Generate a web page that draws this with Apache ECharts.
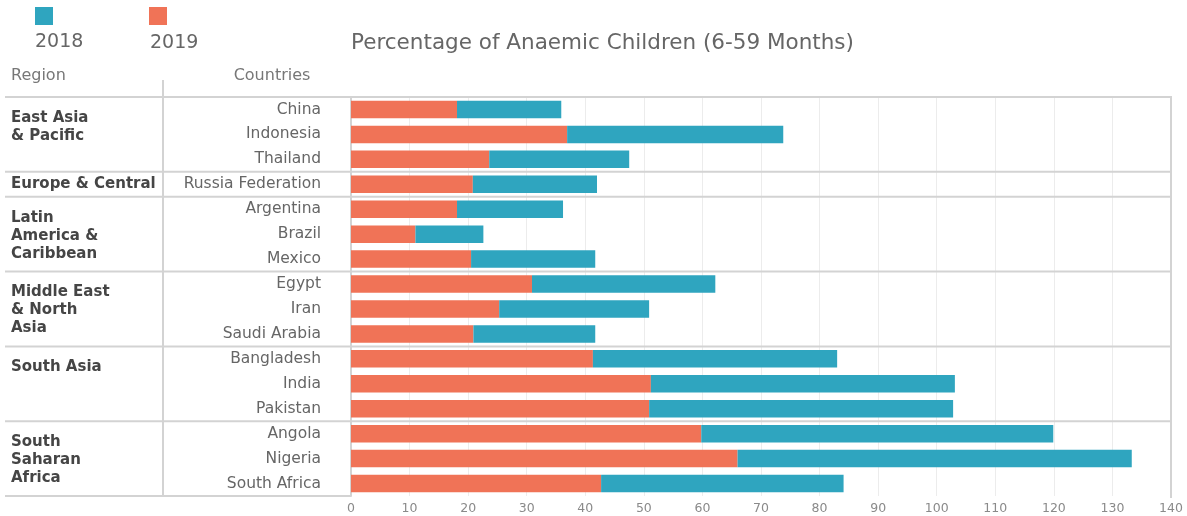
<!DOCTYPE html>
<html><head><meta charset="utf-8">
<script src="https://cdn.jsdelivr.net/npm/echarts@6/dist/echarts.min.js"></script>
<style>html,body{margin:0;padding:0;background:#fff}#c{width:1187px;height:516px}</style>
</head><body><div id="c"></div>
<script>
const categories = ['China','Indonesia','Thailand','Russia Federation','Argentina','Brazil','Mexico','Egypt','Iran','Saudi Arabia','Bangladesh','India','Pakistan','Angola','Nigeria','South Africa'];
const values2019 = [18.1,36.9,23.6,20.8,18.1,11.0,20.5,30.9,25.3,20.9,41.3,51.2,50.9,59.8,66.0,42.7];
const values2018 = [17.8,36.9,23.9,21.2,18.1,11.6,21.2,31.3,25.6,20.8,41.7,51.9,51.9,60.1,67.3,41.4];
const regions = ['East Asia\n& Pacific','Europe & Central','Latin\nAmerica &\nCaribbean','Middle East\n& North\nAsia','South Asia','South\nSaharan\nAfrica'];
const regionSizes = [3,1,3,3,3,3];
const legendNames = ['2018','2019'];
const headers = ['Region','Countries'];
const titleText = 'Percentage of Anaemic Children (6-59 Months)';
const xMin = 0, xMax = 140, xStep = 10;

const TEAL = '#2fa5bf', ORANGE = '#f07357';
const FONT = '"DejaVu Sans", sans-serif';
const LINE = '#d3d3d3';

const chart = echarts.init(document.getElementById('c'), null, {renderer:'canvas'});
chart.setOption({
  animation:false,
  backgroundColor:'#fff',
  title:{text:titleText,left:346,top:27,textStyle:{fontSize:21.5,fontWeight:'normal',color:'#666',fontFamily:FONT}},
  grid:{left:351,right:16,top:97,bottom:20},
  xAxis:{type:'value',min:xMin,max:xMax,interval:xStep,
    axisLine:{show:false},axisTick:{show:false},
    axisLabel:{color:'#8a8a8a',fontSize:12.5,fontFamily:FONT,margin:6},
    splitLine:{show:true,showMinLine:false,showMaxLine:false,lineStyle:{color:'#ececec',width:1}}},
  yAxis:{type:'category',inverse:true,data:categories,
    axisLine:{show:true,lineStyle:{color:LINE,width:2}},axisTick:{show:false},
    axisLabel:{color:'#666',fontSize:15.5,fontFamily:FONT,margin:30}},
  series:[
    {name:legendNames[1],type:'bar',stack:'t',data:values2019,barWidth:'70%',itemStyle:{color:ORANGE}},
    {name:legendNames[0],type:'bar',stack:'t',data:values2018,barWidth:'70%',itemStyle:{color:TEAL}}
  ]
});

// table decorations derived from the axis scales
const c0 = chart.convertToPixel({yAxisIndex:0}, categories[0]);
const c1 = chart.convertToPixel({yAxisIndex:0}, categories[1]);
const band = c1 - c0;
const xRight = chart.convertToPixel({xAxisIndex:0}, xMax);
const xLeft = chart.convertToPixel({xAxisIndex:0}, xMin);
const els = [];
let idx = 0;
const bottomY = chart.convertToPixel({yAxisIndex:0}, categories[categories.length-1]) + band/2;
regions.forEach((r,i)=>{
  const top = chart.convertToPixel({yAxisIndex:0}, categories[idx]) - band/2;
  els.push({type:'line',shape:{x1:5,y1:top,x2:xRight+1,y2:top},style:{stroke:LINE,lineWidth:2},silent:true});
  const n = regionSizes[i];
  const y = n === 1 ? top + band/2 - 9 : top + 12;
  els.push({type:'text',style:{text:r,x:11,y:y,fill:'#454545',font:'bold 15px '+FONT,lineHeight:18,textVerticalAlign:'top',textAlign:'left'},silent:true});
  idx += n;
});
els.push({type:'line',shape:{x1:5,y1:bottomY,x2:xLeft,y2:bottomY},style:{stroke:LINE,lineWidth:2},silent:true});
els.push({type:'line',shape:{x1:163,y1:80,x2:163,y2:bottomY+1},style:{stroke:LINE,lineWidth:2},silent:true});
els.push({type:'line',shape:{x1:xRight,y1:c0-band/2,x2:xRight,y2:bottomY+2},style:{stroke:LINE,lineWidth:2},silent:true});
// headers
els.push({type:'text',style:{text:headers[0],x:11,y:76,fill:'#777',font:'16px '+FONT,textVerticalAlign:'middle',textAlign:'left'},silent:true});
els.push({type:'text',style:{text:headers[1],x:272,y:76,fill:'#777',font:'16px '+FONT,textVerticalAlign:'middle',textAlign:'center'},silent:true});
// legend
els.push({type:'rect',shape:{x:35,y:7,width:18,height:18},style:{fill:TEAL},silent:true});
els.push({type:'text',style:{text:legendNames[0],x:35,y:42,fill:'#666',font:'19px '+FONT,textVerticalAlign:'middle',textAlign:'left'},silent:true});
els.push({type:'rect',shape:{x:149,y:7,width:18,height:18},style:{fill:ORANGE},silent:true});
els.push({type:'text',style:{text:legendNames[1],x:150,y:43,fill:'#666',font:'19px '+FONT,textVerticalAlign:'middle',textAlign:'left'},silent:true});
chart.setOption({graphic:{elements:els}});
</script></body></html>
